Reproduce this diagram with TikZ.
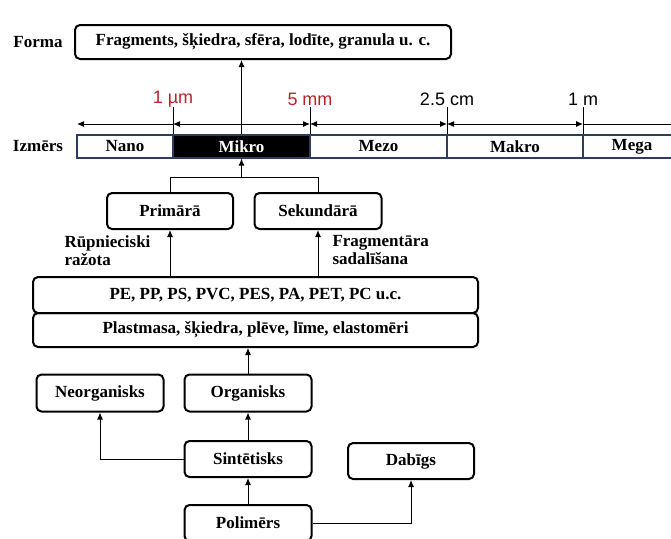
\documentclass[tikz,border=0pt]{standalone}
\usepackage{fontspec}
\setmainfont{Liberation Serif}
\newfontfamily\scalefont{Liberation Sans}
\usetikzlibrary{arrows.meta}
\definecolor{barblue}{RGB}{45,60,95}
\definecolor{scalered}{RGB}{185,35,40}
\tikzset{
  box/.style={draw, line width=2pt, rounded corners=5pt, inner sep=0pt,
    font=\fontsize{17}{19}\selectfont\bfseries},
  cell/.style={draw=barblue, line width=1.2pt, inner sep=0pt, minimum height=23pt,
    font=\fontsize{17}{19}\selectfont\bfseries},
  side/.style={font=\fontsize{17}{18}\selectfont\bfseries, inner sep=0pt},
  sizemark/.style={font=\scalefont\fontsize{18}{20}\selectfont, inner sep=0pt},
  arr/.style={-{Latex[length=7pt,width=6pt]}},
  dbl/.style={{Latex[length=7pt,width=6pt]}-{Latex[length=7pt,width=6pt]}}
}
\begin{document}
\begin{tikzpicture}[x=1pt, y=-1pt, line width=1pt]
  \clip (0,0) rectangle (671,538);
  \fill[white] (0,0) rectangle (671,538);
  % rows on the left
  \node[side] (formalbl) at (38,42) {Forma};
  \node[side] (sizelbl) at (38,146) {Izmērs};
  \node[box, minimum width=376pt, minimum height=34pt] (forma) at (263,42) {Fragments, šķiedra, sfēra, lodīte, granula u. c.};
  % size bar
  \node[cell, minimum width=96pt] (nano) at (125,146.5) {Nano};
  \node[cell, minimum width=137pt, fill=black, text=white] (mikro) at (241.5,146.5) {Mikro};
  \node[cell, minimum width=137pt] (mezo) at (378.5,146.5) {Mezo};
  \node[cell, minimum width=136pt] (makro) at (515,146.5) {Makro};
  \node[cell, minimum width=98pt] (mega) at (632,146.5) {Mega};
  % scale
  \path
  coordinate (s0) at (77,124)
  coordinate (s1) at (173,124)
  coordinate (s2) at (310,124)
  coordinate (s3) at (447,124)
  coordinate (s4) at (583,124)
  coordinate (s5) at (671,124)
  ;
  \draw (nano.north east) -- ++(0,-27);
  \draw (mikro.north east) -- ++(0,-27);
  \draw (mezo.north east) -- ++(0,-27);
  \draw (makro.north east) -- ++(0,-27);
  \node[sizemark, text=scalered] at (173,99) {1 µm};
  \node[sizemark, text=scalered] at (310,99) {5 mm};
  \node[sizemark] at (447,99) {2.5 cm};
  \node[sizemark] at (583,99) {1 m};
  \draw[arr] (s1) -- (s0);
  \draw[dbl] (s1) -- (s2);
  \draw[dbl] (s2) -- (s3);
  \draw[dbl] (s3) -- (s4);
  \draw (s4) -- (s5);
  \draw[arr] (mikro.north) -- (mikro.north |- forma.south);
  % origin of micro plastics
  \node[box, minimum width=126pt, minimum height=36pt] (prim) at (170,211) {Primārā};
  \node[box, minimum width=127pt, minimum height=36pt] (sek) at (318,211) {Sekundārā};
  \coordinate (join) at ([yshift=-19pt]mikro.south);
  \draw (prim.north) |- (join) -| (sek.north);
  \draw[arr] (join) -- (mikro.south);
  \node[side, align=left, anchor=north west] (rup) at (64,235) {Rūpnieciski\\ražota};
  \node[side, align=left, anchor=north west] (frag) at (332,235) {Fragmentāra\\sadalīšana};
  \node[box, minimum width=445pt, minimum height=36pt] (pe) at (255.5,295) {PE, PP, PS, PVC, PES, PA, PET, PC u.c.};
  \node[box, minimum width=445pt, minimum height=34pt] (plast) at (255.5,330) {Plastmasa, šķiedra, plēve, līme, elastomēri};
  \draw[arr] (prim.south |- pe.north) -- (prim.south);
  \draw[arr] (sek.south |- pe.north) -- (sek.south);
  % polymers
  \node[box, minimum width=127pt, minimum height=37pt] (neo) at (100,393) {Neorganisks};
  \node[box, minimum width=127pt, minimum height=37pt] (org) at (248,393) {Organisks};
  \node[box, minimum width=127pt, minimum height=36pt] (sint) at (248,459) {Sintētisks};
  \node[box, minimum width=126pt, minimum height=36pt] (dab) at (411,461) {Dabīgs};
  \node[box, minimum width=127pt, minimum height=36pt] (poli) at (248,523) {Polimērs};
  \draw[arr] (org.north) -- (org.north |- plast.south);
  \draw[arr] (sint.north) -- (org.south);
  \draw[arr] (sint.west) -| (neo.south);
  \draw[arr] (poli.north) -- (sint.south);
  \draw[arr] (poli.east) -| (dab.south);
\end{tikzpicture}
\end{document}
